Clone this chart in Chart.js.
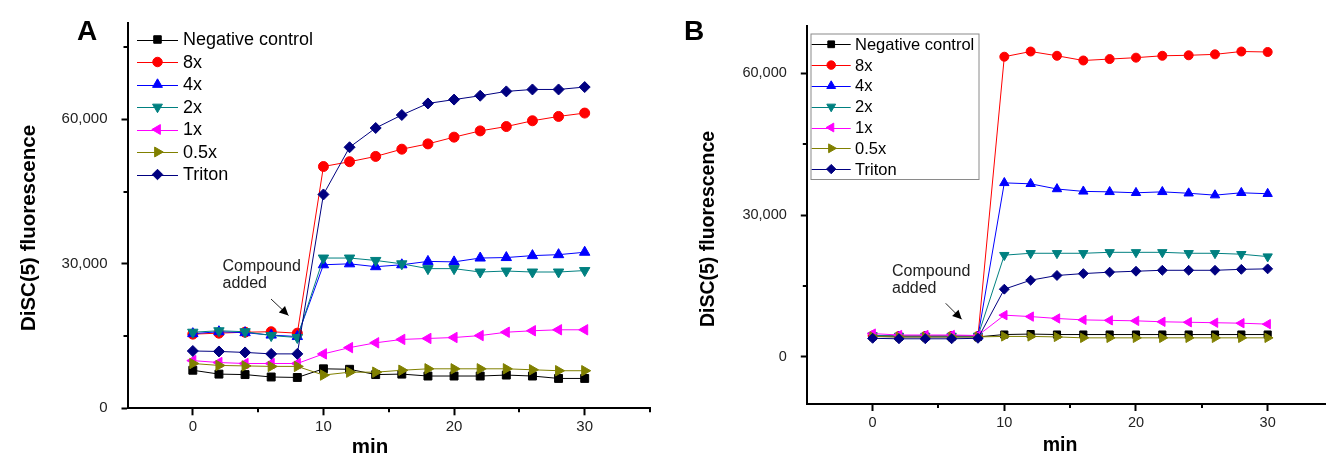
<!DOCTYPE html>
<html><head><meta charset="utf-8">
<script src="https://cdn.jsdelivr.net/npm/chart.js@4.4.1/dist/chart.umd.min.js"></script>
<style>
html,body{margin:0;padding:0;background:#fff;overflow:hidden;width:1326px;height:456px;}
#wrap{position:relative;width:1326px;height:456px;overflow:hidden;background:#fff;}
#cA{position:absolute;left:0;top:0;}
#cB{position:absolute;left:663px;top:0;}
</style></head><body>
<div id="wrap"><canvas id="cA" width="663" height="456"></canvas><canvas id="cB" width="680" height="456"></canvas></div>
<script>
// ---- data ----
const times = [0, 2, 4, 6, 8, 10, 12, 14, 16, 18, 20, 22, 24, 26, 28, 30];
const seriesLabels = ['Negative control', '8x', '4x', '2x', '1x', '0.5x', 'Triton'];
const xTickValues = [0, 10, 20, 30];
const xTickLabels = ['0', '10', '20', '30'];
const yTickValues = [0, 30000, 60000];
const yTickLabels = ['0', '30,000', '60,000'];

// Panel A
const aNegative = [7900, 7100, 7000, 6500, 6400, 8200, 8100, 7000, 7100, 6700, 6700, 6700, 6900, 6700, 6200, 6200];
const a8x       = [15400, 15600, 15800, 15900, 15600, 50200, 51200, 52300, 53800, 54900, 56300, 57600, 58500, 59700, 60600, 61300];
const a4x       = [15500, 15900, 15700, 15200, 14900, 29800, 30000, 29400, 29800, 30500, 30400, 31200, 31300, 31700, 31900, 32400];
const a2x       = [15800, 16100, 15900, 15100, 14700, 31200, 31200, 30700, 30000, 29000, 29000, 28300, 28500, 28300, 28300, 28600];
const a1x       = [9900, 9500, 9300, 9300, 9300, 11300, 12600, 13600, 14300, 14500, 14700, 15100, 15800, 16100, 16300, 16300];
const a05x      = [9300, 8900, 8800, 8700, 8700, 6900, 7500, 7500, 7900, 8200, 8200, 8200, 8200, 8000, 7800, 7800];
const aTriton   = [11900, 11800, 11600, 11300, 11300, 44400, 54200, 58200, 60900, 63300, 64100, 64900, 65800, 66200, 66200, 66700];

// Panel B
const bNegative = [4300, 4200, 4200, 4200, 4200, 4700, 4800, 4700, 4700, 4700, 4700, 4700, 4700, 4700, 4700, 4700];
const b8x       = [4500, 4400, 4400, 4400, 4400, 63500, 64600, 63700, 62700, 63000, 63300, 63700, 63800, 64000, 64600, 64500];
const b4x       = [4400, 4300, 4300, 4300, 4300, 36800, 36600, 35500, 35000, 34900, 34700, 34900, 34600, 34200, 34700, 34500];
const b2x       = [4500, 4400, 4400, 4400, 4400, 21500, 21900, 21900, 21900, 22100, 22100, 22100, 21900, 21900, 21700, 21200];
const b1x       = [4900, 4600, 4600, 4600, 4500, 8800, 8500, 8100, 7800, 7700, 7600, 7400, 7300, 7200, 7100, 6900];
const b05x      = [4300, 4200, 4200, 4200, 4200, 4300, 4300, 4200, 4000, 4000, 4000, 4000, 4000, 4000, 4000, 4000];
const bTriton   = [3900, 3800, 3800, 3800, 3900, 14300, 16200, 17200, 17600, 17900, 18100, 18300, 18300, 18300, 18500, 18600];

// ---- styles ----
const FONT = "'Liberation Sans', Arial, Helvetica, sans-serif";
const seriesColors = ['#000000', '#ff0000', '#0000ff', '#008080', '#ff00ff', '#808000', '#000080'];
const seriesShapes = ['rect', 'circle', 'triangle', 'triangle', 'triangle', 'triangle', 'rectRot'];
const seriesRotations = [0, 0, 0, 180, 270, 90, 0];
const seriesRadii = [5.6, 5, 6, 6, 6, 6, 5.5];

function shape(ctx, style, rot, r, x, y) {
  ctx.beginPath();
  if (style === 'circle') { ctx.arc(x, y, r, 0, Math.PI * 2); }
  else if (style === 'rect') { const s = r * Math.SQRT1_2; ctx.rect(x - s, y - s, 2 * s, 2 * s); }
  else if (style === 'rectRot') { ctx.moveTo(x - r, y); ctx.lineTo(x, y - r); ctx.lineTo(x + r, y); ctx.lineTo(x, y + r); ctx.closePath(); }
  else {
    let a = rot * Math.PI / 180;
    for (let k = 0; k < 3; k++) { const px = x + Math.sin(a) * r, py = y - Math.cos(a) * r; if (k === 0) ctx.moveTo(px, py); else ctx.lineTo(px, py); a += Math.PI * 2 / 3; }
    ctx.closePath();
  }
  ctx.fill(); ctx.stroke();
}

function makePanel(canvasId, values, L) {
  const datasets = seriesLabels.map((name, i) => ({
    label: name,
    data: times.map((t, k) => ({ x: t, y: values[i][k] })),
    borderColor: seriesColors[i], backgroundColor: seriesColors[i],
    borderWidth: 1, tension: 0,
    pointStyle: seriesShapes[i], pointRotation: seriesRotations[i],
    pointRadius: seriesRadii[i] * L.markerScale,
    pointBackgroundColor: seriesColors[i], pointBorderColor: seriesColors[i], pointBorderWidth: 1,
    order: seriesLabels.length - i, clip: false
  }));

  const deco = {
    id: 'deco' + canvasId,
    afterDraw(chart) {
      const ctx = chart.ctx, xs = chart.scales.x, ys = chart.scales.y;
      ctx.save();
      // minor ticks
      ctx.strokeStyle = '#000'; ctx.lineWidth = 2;
      L.xMinor.forEach(v => { const p = Math.round(xs.getPixelForValue(v)); ctx.beginPath(); ctx.moveTo(p, xs.top); ctx.lineTo(p, xs.top + 4); ctx.stroke(); });
      L.yMinor.forEach(v => { const p = Math.round(ys.getPixelForValue(v)); ctx.beginPath(); ctx.moveTo(ys.right - 4, p); ctx.lineTo(ys.right, p); ctx.stroke(); });
      // panel letter
      ctx.fillStyle = '#000'; ctx.font = 'bold 28px ' + FONT; ctx.textAlign = 'left'; ctx.textBaseline = 'alphabetic';
      ctx.fillText(L.letter, L.letterX, L.letterY);
      // axis titles
      ctx.font = 'bold ' + L.titleSize + 'px ' + FONT; ctx.textAlign = 'center';
      ctx.fillText('min', L.xTitleX, L.xTitleY);
      ctx.save(); ctx.translate(L.yTitleX, L.yTitleY); ctx.rotate(-Math.PI / 2);
      ctx.textBaseline = 'middle'; ctx.fillText('DiSC(5) fluorescence', 0, 0); ctx.restore();
      // annotation
      ctx.fillStyle = '#222'; ctx.font = '16px ' + FONT; ctx.textAlign = 'left'; ctx.textBaseline = 'alphabetic';
      ctx.fillText('Compound', L.noteX, L.noteY1); ctx.fillText('added', L.noteX, L.noteY2);
      const [ax1, ay1, ax2, ay2] = L.arrow;
      ctx.strokeStyle = '#222'; ctx.lineWidth = 1;
      ctx.beginPath(); ctx.moveTo(ax1, ay1); ctx.lineTo(ax2, ay2); ctx.stroke();
      const ang = Math.atan2(ay2 - ay1, ax2 - ax1), hl = 9, hw = 4.5;
      ctx.fillStyle = '#000'; ctx.beginPath(); ctx.moveTo(ax2, ay2);
      ctx.lineTo(ax2 - hl * Math.cos(ang) + hw * Math.sin(ang), ay2 - hl * Math.sin(ang) - hw * Math.cos(ang));
      ctx.lineTo(ax2 - hl * Math.cos(ang) - hw * Math.sin(ang), ay2 - hl * Math.sin(ang) + hw * Math.cos(ang));
      ctx.closePath(); ctx.fill();
      // legend
      const lg = L.legend;
      if (lg.box) { ctx.strokeStyle = '#8a8a8a'; ctx.lineWidth = 1; ctx.strokeRect(lg.box[0] + 0.5, lg.box[1] + 0.5, lg.box[2], lg.box[3]); }
      ctx.font = lg.size + 'px ' + FONT; ctx.textBaseline = 'middle'; ctx.textAlign = 'left';
      seriesLabels.forEach((name, i) => {
        const y = lg.y0 + i * lg.rowH, c = seriesColors[i];
        ctx.strokeStyle = c; ctx.lineWidth = 1;
        ctx.beginPath(); ctx.moveTo(lg.x0, Math.round(y) + 0.5); ctx.lineTo(lg.x0 + lg.lineLen, Math.round(y) + 0.5); ctx.stroke();
        ctx.fillStyle = c; shape(ctx, seriesShapes[i], seriesRotations[i], seriesRadii[i] * lg.markerScale, lg.x0 + lg.lineLen / 2, y);
        ctx.fillStyle = '#000'; ctx.fillText(name, lg.textX, y + 1);
      });
      ctx.restore();
    }
  };

  const H = L.height, A = L.area;
  return new Chart(document.getElementById(canvasId), {
    type: 'line',
    data: { datasets },
    options: {
      responsive: false, animation: false, devicePixelRatio: 1,
      layout: { padding: { left: 0, top: A.top, right: L.width - A.right, bottom: 0 } },
      plugins: { legend: { display: false }, tooltip: { enabled: false }, title: { display: false } },
      scales: {
        x: {
          type: 'linear', position: 'bottom', min: -5, max: 35,
          afterBuildTicks: s => { s.ticks = xTickValues.map(v => ({ value: v })); },
          afterFit: s => { s.height = H - A.bottom; },
          ticks: { callback: (v, i) => xTickLabels[i], font: { family: FONT, size: L.tickSize }, color: '#222', padding: 3, maxRotation: 0, autoSkip: false },
          grid: { display: true, drawOnChartArea: false, drawTicks: true, tickLength: 7, tickWidth: 2, tickColor: '#000' },
          border: { display: true, color: '#000', width: 2 }
        },
        y: {
          type: 'linear', position: 'left', min: L.yMin, max: L.yMax,
          afterBuildTicks: s => { s.ticks = yTickValues.map(v => ({ value: v })); },
          afterFit: s => { s.width = A.left; },
          ticks: { callback: (v, i) => yTickLabels[i], font: { family: FONT, size: L.tickSize }, color: '#222', padding: 14, autoSkip: false },
          grid: { display: true, drawOnChartArea: false, drawTicks: true, tickLength: 6, tickWidth: 2, tickColor: '#000' },
          border: { display: true, color: '#000', width: 2 }
        }
      }
    },
    plugins: [deco]
  });
}

makePanel('cA', [aNegative, a8x, a4x, a2x, a1x, a05x, aTriton], {
  width: 663, height: 456, area: { left: 127.5, top: 19.5, right: 650, bottom: 408.3 },
  yMin: 0, yMax: 80000, xMinor: [5, 15, 25, 35], yMinor: [15000, 45000, 75000],
  markerScale: 1, tickSize: 15, titleSize: 20.5,
  letter: 'A', letterX: 77, letterY: 40,
  xTitleX: 370, xTitleY: 453, yTitleX: 29, yTitleY: 228,
  noteX: 222.5, noteY1: 271, noteY2: 288, arrow: [271, 299, 288.5, 315.5],
  legend: { x0: 137, lineLen: 41, textX: 183, y0: 39.5, rowH: 22.5, size: 18, markerScale: 0.95, box: null }
});

makePanel('cB', [bNegative, b8x, b4x, b2x, b1x, b05x, bTriton], {
  width: 680, height: 456, area: { left: 143.8, top: 26, right: 670.5, bottom: 404 },
  yMin: -10000, yMax: 70000, xMinor: [5, 15, 25, 35], yMinor: [15000, 45000],
  markerScale: 0.9, tickSize: 14.5, titleSize: 19.5,
  letter: 'B', letterX: 21, letterY: 40,
  xTitleX: 397, xTitleY: 451, yTitleX: 46, yTitleY: 229,
  noteX: 229, noteY1: 276, noteY2: 293, arrow: [282.7, 303.3, 298.7, 319.3],
  legend: { x0: 148.7, lineLen: 39, textX: 192, y0: 44.3, rowH: 20.8, size: 16.5, markerScale: 0.85, box: [147.5, 33.5, 168, 145.5] }
});
</script>
</body></html>
